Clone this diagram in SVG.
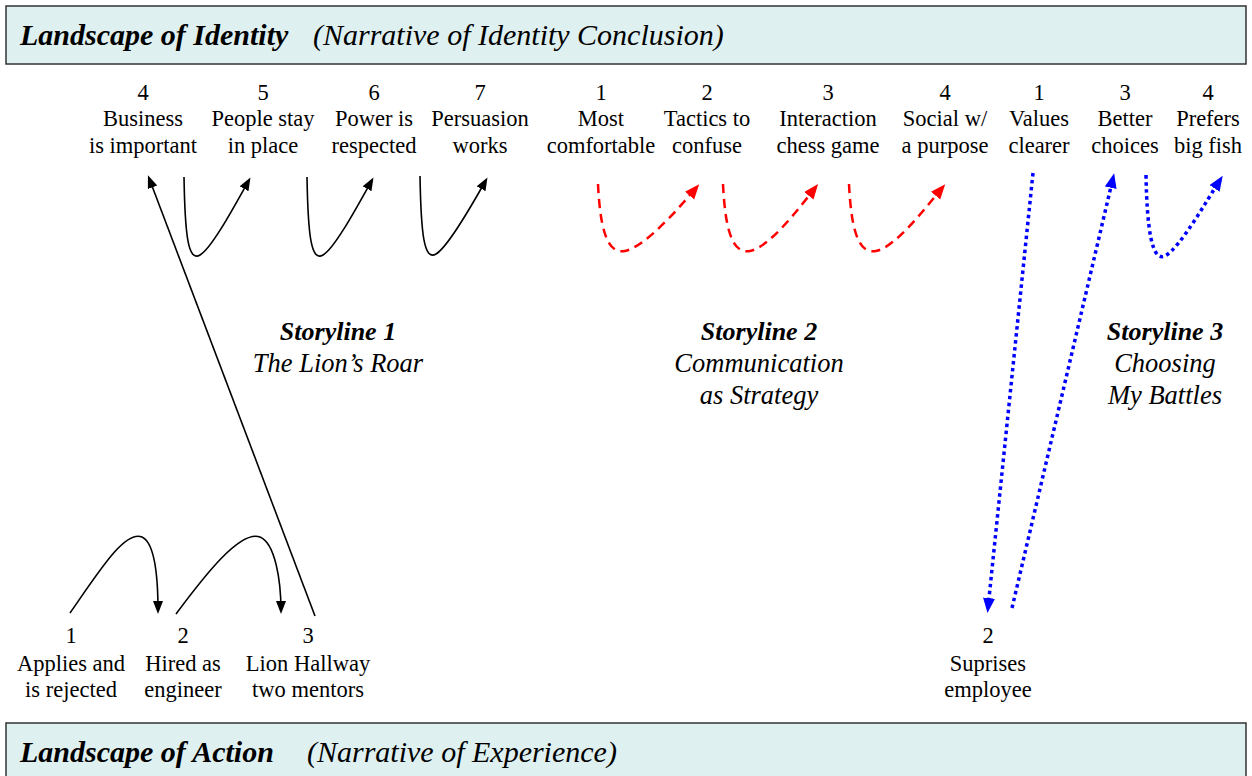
<svg xmlns="http://www.w3.org/2000/svg" width="1252" height="776" viewBox="0 0 1252 776">
<style>
.hdr{fill:#dff0f0;stroke:#333;stroke-width:1.5}
.t{font-family:"Liberation Serif","Times New Roman",serif;font-size:22.5px;fill:#000;text-anchor:middle}
.hb{font-family:"Liberation Serif","Times New Roman",serif;font-size:30px;font-weight:bold;font-style:italic;fill:#000}
.hi{font-family:"Liberation Serif","Times New Roman",serif;font-size:30px;font-style:italic;fill:#000}
.sb{font-family:"Liberation Serif","Times New Roman",serif;font-size:26px;font-weight:bold;font-style:italic;text-anchor:middle}
.si{font-family:"Liberation Serif","Times New Roman",serif;font-size:26.5px;font-style:italic;text-anchor:middle}
.blk{fill:none;stroke:#000;stroke-width:1.6}
.red{fill:none;stroke:#ff0000;stroke-width:2.5;stroke-dasharray:9 6}
.blu{fill:none;stroke:#0000ff;stroke-width:3.5;stroke-dasharray:3.5 3.5}
</style>
<defs>
<marker id="ak" markerUnits="userSpaceOnUse" markerWidth="14" markerHeight="12" refX="10" refY="5" orient="auto"><path d="M0,0 L13,5 L0,10 z" fill="#000"/></marker>
<marker id="ar" markerUnits="userSpaceOnUse" markerWidth="16" markerHeight="14" refX="10" refY="6" orient="auto"><path d="M0,0 L15,6 L0,12 z" fill="#ff0000"/></marker>
<marker id="ab" markerUnits="userSpaceOnUse" markerWidth="16" markerHeight="14" refX="10" refY="6" orient="auto"><path d="M0,0 L15,6 L0,12 z" fill="#0000ff"/></marker>
</defs>
<rect width="1252" height="776" fill="#fff"/>
<g id="header-identity">
<rect class="hdr" x="6" y="6" width="1240" height="58"/>
<text class="hb" x="20" y="45">Landscape of Identity</text>
<text class="hi" x="313" y="45">(Narrative of Identity Conclusion)</text>
</g>
<g id="header-action">
<rect class="hdr" x="6" y="723" width="1240" height="60"/>
<text class="hb" x="20" y="762">Landscape of Action</text>
<text class="hi" x="307" y="762">(Narrative of Experience)</text>
</g>
<g id="id-s1-4"><text class="t" x="143" y="100">4</text><text class="t" x="143" y="126">Business</text><text class="t" x="143" y="153">is important</text></g>
<g id="id-s1-5"><text class="t" x="263" y="100">5</text><text class="t" x="263" y="126">People stay</text><text class="t" x="263" y="153">in place</text></g>
<g id="id-s1-6"><text class="t" x="374" y="100">6</text><text class="t" x="374" y="126">Power is</text><text class="t" x="374" y="153">respected</text></g>
<g id="id-s1-7"><text class="t" x="480" y="100">7</text><text class="t" x="480" y="126">Persuasion</text><text class="t" x="480" y="153">works</text></g>
<g id="id-s2-1"><text class="t" x="601" y="100">1</text><text class="t" x="601" y="126">Most</text><text class="t" x="601" y="153">comfortable</text></g>
<g id="id-s2-2"><text class="t" x="707" y="100">2</text><text class="t" x="707" y="126">Tactics to</text><text class="t" x="707" y="153">confuse</text></g>
<g id="id-s2-3"><text class="t" x="828" y="100">3</text><text class="t" x="828" y="126">Interaction</text><text class="t" x="828" y="153">chess game</text></g>
<g id="id-s2-4"><text class="t" x="945" y="100">4</text><text class="t" x="945" y="126">Social w/</text><text class="t" x="945" y="153">a purpose</text></g>
<g id="id-s3-1"><text class="t" x="1039" y="100">1</text><text class="t" x="1039" y="126">Values</text><text class="t" x="1039" y="153">clearer</text></g>
<g id="id-s3-3"><text class="t" x="1125" y="100">3</text><text class="t" x="1125" y="126">Better</text><text class="t" x="1125" y="153">choices</text></g>
<g id="id-s3-4"><text class="t" x="1208" y="100">4</text><text class="t" x="1208" y="126">Prefers</text><text class="t" x="1208" y="153">big fish</text></g>
<g id="act-s1-1"><text class="t" x="71" y="643">1</text><text class="t" x="71" y="671">Applies and</text><text class="t" x="71" y="697">is rejected</text></g>
<g id="act-s1-2"><text class="t" x="183" y="643">2</text><text class="t" x="183" y="671">Hired as</text><text class="t" x="183" y="697">engineer</text></g>
<g id="act-s1-3"><text class="t" x="308" y="643">3</text><text class="t" x="308" y="671">Lion Hallway</text><text class="t" x="308" y="697">two mentors</text></g>
<g id="act-s3-2"><text class="t" x="988" y="643">2</text><text class="t" x="988" y="671">Suprises</text><text class="t" x="988" y="697">employee</text></g>
<g id="storyline-1"><text class="sb" x="338" y="340">Storyline 1</text><text class="si" x="338" y="372">The Lion’s Roar</text></g>
<g id="storyline-2"><text class="sb" x="759" y="340">Storyline 2</text><text class="si" x="759" y="372">Communication</text><text class="si" x="759" y="404">as Strategy</text></g>
<g id="storyline-3"><text class="sb" x="1165" y="340">Storyline 3</text><text class="si" x="1165" y="372">Choosing</text><text class="si" x="1165" y="404">My Battles</text></g>
<g id="connectors">
<path class="blk" marker-end="url(#ak)" d="M315,616 L149,178"/>
<path class="blk" marker-end="url(#ak)" d="M184,177 C185,235 188,262 200,255 C212,248 235,205 249,180"/>
<path class="blk" marker-end="url(#ak)" d="M307,177 C308,235 311,262 323,255 C335,248 358,205 372,180"/>
<path class="blk" marker-end="url(#ak)" d="M420,176 C421,234 424,261 436,254 C448,247 472,205 486,180"/>
<path class="blk" marker-end="url(#ak)" d="M70,613 C100,570 125,530 142,537 C155,543 158,580 158,611"/>
<path class="blk" marker-end="url(#ak)" d="M176,614 C205,575 240,530 260,537 C275,543 281,580 281,611"/>
<path class="red" marker-end="url(#ar)" d="M598,184 C600,225 606,255 625,251 C645,247 680,207 696,188"/>
<path class="red" marker-end="url(#ar)" d="M723,184 C725,225 731,255 750,251 C770,247 800,207 815,188"/>
<path class="red" marker-end="url(#ar)" d="M849,184 C851,225 857,255 876,251 C896,247 926,207 942,188"/>
<path class="blu" marker-end="url(#ab)" d="M1033,173 L988,608"/>
<path class="blu" marker-end="url(#ab)" d="M1012,608 L1113,178"/>
<path class="blu" marker-end="url(#ab)" d="M1146,175 C1147,230 1152,262 1165,256 C1180,248 1207,200 1220,180"/>
</g>
</svg>
